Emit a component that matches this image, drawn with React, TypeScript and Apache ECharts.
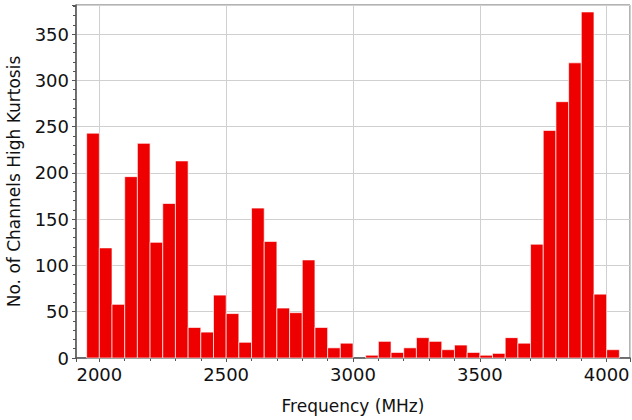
import React, { useEffect, useRef } from "react";
import * as echarts from "echarts";

// Bin start frequencies (MHz), each bin is 50 MHz wide
const binStarts = [
  1950, 2000, 2050, 2100, 2150, 2200, 2250, 2300, 2350, 2400, 2450, 2500, 2550, 2600,
  2650, 2700, 2750, 2800, 2850, 2900, 2950, 3000, 3050, 3100, 3150, 3200, 3250, 3300,
  3350, 3400, 3450, 3500, 3550, 3600, 3650, 3700, 3750, 3800, 3850, 3900, 3950, 4000,
];
const binWidth = 50;
const counts = [
  243, 119, 58, 196, 232, 125, 167, 213, 33, 28, 68, 48, 17, 162,
  126, 54, 49, 106, 33, 11, 16, 0, 3, 18, 6, 11, 22, 18,
  9, 14, 6, 3, 5, 22, 16, 123, 246, 277, 319, 374, 69, 9,
];
const xMin = 1908;
const xMax = 4092;
const yMax = 381.5;
const xTitle = "Frequency (MHz)";
const yTitle = "No. of Channels High Kurtosis";

export default function App() {
  const ref = useRef<HTMLDivElement>(null);
  useEffect(() => {
    document.body.style.margin = "0";
    const chart = echarts.init(ref.current!, null, { renderer: "svg" });
    const data = binStarts.map((s, i) => [s, s + binWidth, counts[i]]);
    const font = "DejaVu Sans";
    chart.setOption({
      animation: false,
      backgroundColor: "#ffffff",
      grid: {
        left: 76,
        right: 2,
        top: 5,
        bottom: 62,
        containLabel: false,
        outerBoundsMode: "none",
        show: true,
        borderColor: "#666666",
        borderWidth: 1,
        backgroundColor: "transparent",
      },
      xAxis: {
        type: "value",
        min: xMin,
        max: xMax,
        splitNumber: 5,
        name: xTitle,
        nameLocation: "middle",
        nameGap: 39,
        nameTextStyle: { fontFamily: font, fontSize: 17, color: "#111" },
        axisLine: { show: true, onZero: false, lineStyle: { color: "#555", width: 1.5 } },
        axisTick: { show: true, length: 4, lineStyle: { color: "#555" } },
        minorTick: { show: true, splitNumber: 5, length: 3, lineStyle: { color: "#555" } },
        axisLabel: {
          fontFamily: font,
          fontSize: 18,
          color: "#111",
          margin: 7,
          showMinLabel: false,
          showMaxLabel: false,
          formatter: (v: number) => String(v),
        },
        splitLine: { show: true, lineStyle: { color: "#d0d0d0", width: 1 } },
      },
      yAxis: {
        type: "value",
        min: 0,
        max: yMax,
        interval: 50,
        name: yTitle,
        nameLocation: "middle",
        nameGap: 54,
        nameTextStyle: { fontFamily: font, fontSize: 17, color: "#111" },
        axisLine: { show: true, lineStyle: { color: "#555", width: 1.5 } },
        axisTick: { show: true, length: 4, lineStyle: { color: "#555" } },
        minorTick: { show: true, splitNumber: 5, length: 3, lineStyle: { color: "#555" } },
        axisLabel: {
          fontFamily: font,
          fontSize: 18,
          color: "#111",
          margin: 7,
          showMaxLabel: false,
          formatter: (v: number) => String(v),
        },
        splitLine: { show: true, lineStyle: { color: "#d0d0d0", width: 1 } },
      },
      series: [
        {
          type: "custom",
          data,
          encode: { x: [0, 1], y: 2 },
          renderItem: (params: any, api: any) => {
            const start = api.value(0);
            const end = api.value(1);
            const v = api.value(2);
            if (!v) return null;
            const p0 = api.coord([start, v]);
            const p1 = api.coord([end, 0]);
            return {
              type: "rect",
              shape: { x: p0[0], y: p0[1], width: p1[0] - p0[0], height: p1[1] - p0[1] },
              style: { fill: "#ee0000", stroke: "rgba(255,255,255,0.65)", lineWidth: 1 },
            };
          },
        },
      ],
    });
    return () => chart.dispose();
  }, []);
  return <div ref={ref} style={{ width: 632, height: 420 }} />;
}
